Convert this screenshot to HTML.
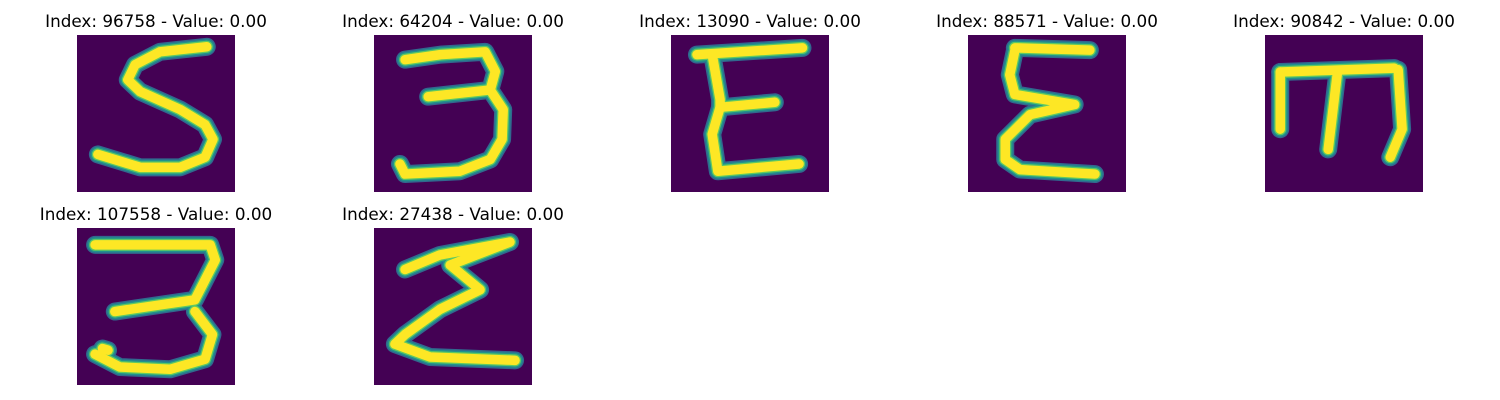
<!DOCTYPE html>
<html><head><meta charset="utf-8"><style>
html,body{margin:0;padding:0;background:#fff;width:1500px;height:400px;overflow:hidden}
svg{display:block}
text{font-family:"DejaVu Sans","Liberation Sans",sans-serif;font-size:16.8px;fill:#000}
</style></head><body>
<svg id="fig" width="1500" height="400" xmlns="http://www.w3.org/2000/svg"></svg>
<script>
const titles=["Index: 96758 - Value: 0.00","Index: 64204 - Value: 0.00","Index: 13090 - Value: 0.00","Index: 88571 - Value: 0.00","Index: 90842 - Value: 0.00","Index: 107558 - Value: 0.00","Index: 27438 - Value: 0.00"];
const strokes=[
 [[[23,2.1],[14.7,3],[10.3,5.3],[9,8],[11.2,10.1],[18.3,13.3],[22.7,16],[24.1,18.6],[22.7,21.8],[18.3,23.6],[11.2,23.6],[3.7,21.3]]],
 [[[5.5,4.4],[11.8,3.5],[19.7,3],[21.5,6.5],[20.6,9.8],[9.6,11]],[[20.6,9.8],[22.9,13.3],[22.7,18.6],[20.6,22.2],[15.2,24.3],[5.5,24.8],[4.6,23]]],
 [[[4.6,3.5],[23.3,2.3]],[[7.3,3.5],[8.7,11.5],[8.7,12.9],[18.4,12]],[[8.7,12.9],[7.3,17.7],[8.3,24.3],[22.7,23]]],
 [[[8.3,2.3],[21.6,2.7]],[[8.3,2.8],[7.4,7.1],[8.3,10.6],[18.9,12.4],[11,14.2],[6.6,18.6],[6.6,22.2],[9.2,24],[22.5,24.8]]],
 [[[2.7,6.6],[22.9,5.9]],[[2.7,6.6],[2.7,16.8]],[[12.8,7],[11.2,20.4]],[[23.6,6.2],[24.3,16.8],[22.2,21.8]]],
 [[[3.2,3],[23.6,3],[24.5,5.7],[20.9,12.8],[6.7,14.9]],[[20.9,14.9],[24,19],[22.7,23.4],[16.5,25.2],[7.6,24.8],[3.2,22.5]],[[4.5,21.5],[5.5,21.8]]],
 [[[5.5,7.4],[11.7,4.8],[24.1,2.5],[13.5,6.6],[18.8,11],[11.7,14.5],[5.5,19],[3.7,20.7],[9.9,23],[25,23.6]]]
];
const NS="http://www.w3.org/2000/svg";
const svg=document.getElementById('fig');
const colX=[77,374,671,968,1265], rowY=[35,228], W=158, H=157;
const sx=v=>v*W/28, sy=v=>v*H/28;
function mk(t,a,p){const e=document.createElementNS(NS,t);for(const k in a)e.setAttribute(k,a[k]);(p||svg).appendChild(e);return e;}
titles.forEach((t,i)=>{
 const x0=colX[i%5], y0=rowY[Math.floor(i/5)];
 const g=mk('g',{transform:`translate(${x0},${y0})`});
 
 
 const cp=mk('clipPath',{id:'c'+i},g); mk('rect',{x:0,y:0,width:W,height:H},cp);
 const bg=mk('rect',{x:0,y:0,width:W,height:H,fill:'#440154'},g);
 
 
 const ig=mk('g',{'clip-path':`url(#c${i})`},g);
 [[18,'#31688e'],[15,'#21918c'],[12,'#5ec962'],[9.5,'#fde725']].forEach(([w,c])=>{
  strokes[i].forEach(s=>{
   const pl=mk('polyline',{points:s.map(p=>sx(p[0])+','+sy(p[1])).join(' '),fill:'none',stroke:c,'stroke-width':w,'stroke-linecap':'round','stroke-linejoin':'round'},ig);
   
   
  });
 });
 const tx=mk('text',{x:W/2,y:-8,'text-anchor':'middle'},g);
 tx.textContent=t;
 
 
});
</script>
</body></html>
